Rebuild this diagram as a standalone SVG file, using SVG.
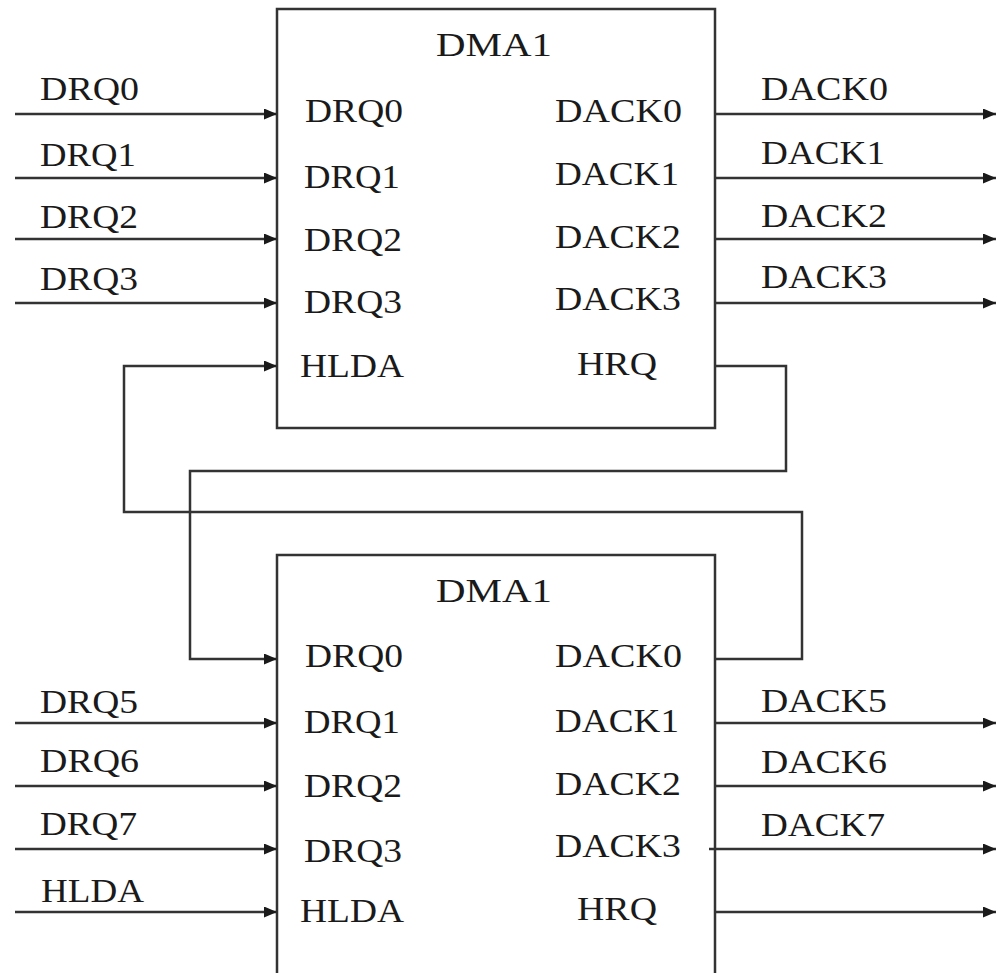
<svg xmlns="http://www.w3.org/2000/svg" width="996" height="973" viewBox="0 0 996 973">
<style>
.box{fill:#fff;stroke:#333;stroke-width:2.5}
.w{fill:none;stroke:#333;stroke-width:2.5}
text{font-family:"Liberation Serif","Times New Roman",serif;font-size:34px;fill:#1a1a1a}
</style>
<defs>
<marker id="ah" markerUnits="userSpaceOnUse" markerWidth="15" markerHeight="12" refX="13" refY="5.5" orient="auto">
<path d="M0,0 L13,5.5 L0,11 z" fill="#1a1a1a"/>
</marker>
</defs>
<rect width="996" height="973" fill="#fff"/>
<g id="dma1-top">
<rect class="box" x="277" y="9" width="438" height="419"/>
<text x="436" y="56" textLength="116" lengthAdjust="spacingAndGlyphs">DMA1</text>
<text x="305" y="122" textLength="98" lengthAdjust="spacingAndGlyphs">DRQ0</text>
<text x="304" y="188" textLength="96" lengthAdjust="spacingAndGlyphs">DRQ1</text>
<text x="304" y="251" textLength="98" lengthAdjust="spacingAndGlyphs">DRQ2</text>
<text x="304" y="313" textLength="98" lengthAdjust="spacingAndGlyphs">DRQ3</text>
<text x="300" y="377" textLength="104" lengthAdjust="spacingAndGlyphs">HLDA</text>
<text x="555" y="122" textLength="127" lengthAdjust="spacingAndGlyphs">DACK0</text>
<text x="555" y="185" textLength="124" lengthAdjust="spacingAndGlyphs">DACK1</text>
<text x="555" y="248" textLength="126" lengthAdjust="spacingAndGlyphs">DACK2</text>
<text x="555" y="310" textLength="126" lengthAdjust="spacingAndGlyphs">DACK3</text>
<text x="577" y="375" textLength="80" lengthAdjust="spacingAndGlyphs">HRQ</text>
</g>
<g id="dma1-bottom">
<rect class="box" x="277" y="555" width="438" height="430"/>
<text x="436" y="602" textLength="116" lengthAdjust="spacingAndGlyphs">DMA1</text>
<text x="305" y="667" textLength="98" lengthAdjust="spacingAndGlyphs">DRQ0</text>
<text x="304" y="733" textLength="96" lengthAdjust="spacingAndGlyphs">DRQ1</text>
<text x="304" y="797" textLength="98" lengthAdjust="spacingAndGlyphs">DRQ2</text>
<text x="304" y="862" textLength="98" lengthAdjust="spacingAndGlyphs">DRQ3</text>
<text x="300" y="922" textLength="104" lengthAdjust="spacingAndGlyphs">HLDA</text>
<text x="555" y="667" textLength="127" lengthAdjust="spacingAndGlyphs">DACK0</text>
<text x="555" y="732" textLength="124" lengthAdjust="spacingAndGlyphs">DACK1</text>
<text x="555" y="795" textLength="126" lengthAdjust="spacingAndGlyphs">DACK2</text>
<text x="555" y="857" textLength="126" lengthAdjust="spacingAndGlyphs">DACK3</text>
<text x="577" y="920" textLength="80" lengthAdjust="spacingAndGlyphs">HRQ</text>
</g>
<g id="connectors">
<path class="w" marker-end="url(#ah)" d="M15,114 H277"/>
<path class="w" marker-end="url(#ah)" d="M15,178 H277"/>
<path class="w" marker-end="url(#ah)" d="M15,239 H277"/>
<path class="w" marker-end="url(#ah)" d="M15,303 H277"/>
<path class="w" marker-end="url(#ah)" d="M715,114 H996"/>
<path class="w" marker-end="url(#ah)" d="M715,178 H996"/>
<path class="w" marker-end="url(#ah)" d="M715,239 H996"/>
<path class="w" marker-end="url(#ah)" d="M715,303 H996"/>
<path class="w" marker-end="url(#ah)" d="M715,366 H786 V471 H190 V659 H277"/>
<path class="w" marker-end="url(#ah)" d="M715,659 H802 V512 H124 V366 H277"/>
<path class="w" marker-end="url(#ah)" d="M15,723 H277"/>
<path class="w" marker-end="url(#ah)" d="M15,786 H277"/>
<path class="w" marker-end="url(#ah)" d="M15,849 H277"/>
<path class="w" marker-end="url(#ah)" d="M15,912 H277"/>
<path class="w" marker-end="url(#ah)" d="M715,723 H996"/>
<path class="w" marker-end="url(#ah)" d="M715,786 H996"/>
<path class="w" marker-end="url(#ah)" d="M709,849 H996"/>
<path class="w" marker-end="url(#ah)" d="M715,912 H996"/>
</g>
<g id="labels">
<text x="40" y="100" textLength="99" lengthAdjust="spacingAndGlyphs">DRQ0</text>
<text x="40" y="166" textLength="96" lengthAdjust="spacingAndGlyphs">DRQ1</text>
<text x="40" y="228" textLength="98" lengthAdjust="spacingAndGlyphs">DRQ2</text>
<text x="40" y="290" textLength="98" lengthAdjust="spacingAndGlyphs">DRQ3</text>
<text x="761" y="100" textLength="127" lengthAdjust="spacingAndGlyphs">DACK0</text>
<text x="761" y="164" textLength="124" lengthAdjust="spacingAndGlyphs">DACK1</text>
<text x="761" y="227" textLength="126" lengthAdjust="spacingAndGlyphs">DACK2</text>
<text x="761" y="288" textLength="126" lengthAdjust="spacingAndGlyphs">DACK3</text>
<text x="40" y="713" textLength="98" lengthAdjust="spacingAndGlyphs">DRQ5</text>
<text x="40" y="772" textLength="99" lengthAdjust="spacingAndGlyphs">DRQ6</text>
<text x="40" y="835" textLength="97" lengthAdjust="spacingAndGlyphs">DRQ7</text>
<text x="41" y="902" textLength="103" lengthAdjust="spacingAndGlyphs">HLDA</text>
<text x="761" y="712" textLength="126" lengthAdjust="spacingAndGlyphs">DACK5</text>
<text x="761" y="773" textLength="126" lengthAdjust="spacingAndGlyphs">DACK6</text>
<text x="761" y="836" textLength="124" lengthAdjust="spacingAndGlyphs">DACK7</text>
</g>
</svg>
